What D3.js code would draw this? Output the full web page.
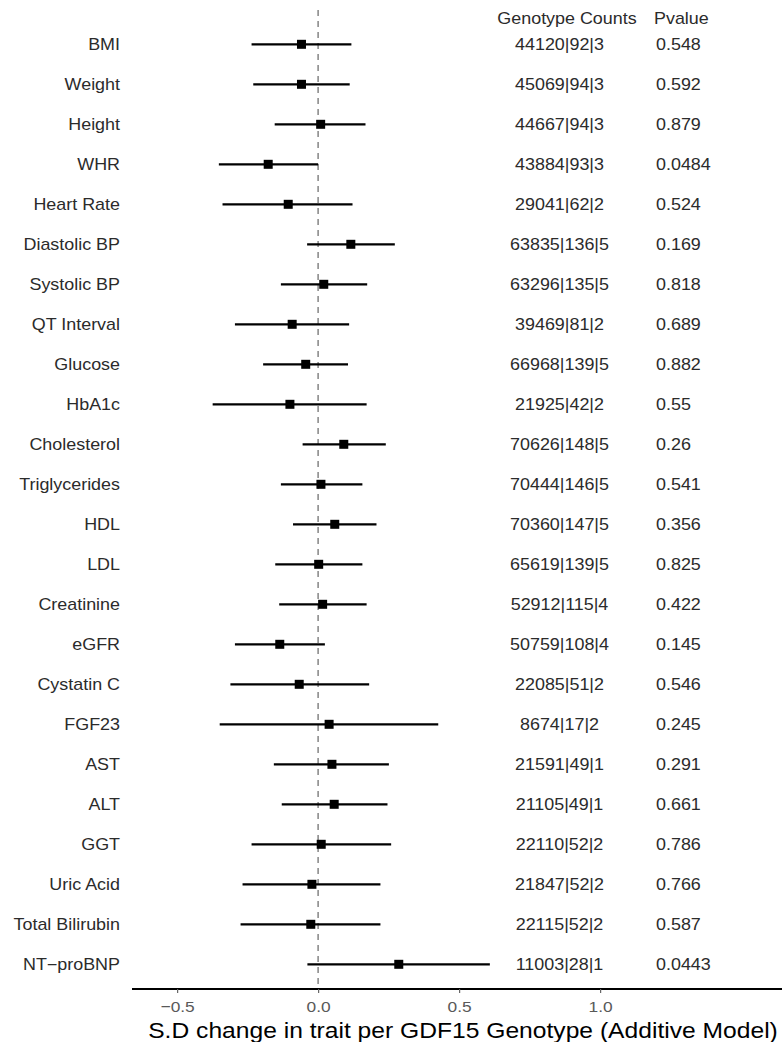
<!DOCTYPE html>
<html>
<head>
<meta charset="utf-8">
<script src="https://cdn.jsdelivr.net/npm/d3@7"></script>
<style>
  html, body { margin: 0; padding: 0; background: #fff; }
  svg { display: block; font-family: "Liberation Sans", Arial, sans-serif; }
</style>
</head>
<body>
<svg id="chart" width="782" height="1042"></svg>
<script>
// Traits tested against GDF15 genotype
const traits = ["BMI", "Weight", "Height", "WHR", "Heart Rate", "Diastolic BP", "Systolic BP",
  "QT Interval", "Glucose", "HbA1c", "Cholesterol", "Triglycerides", "HDL", "LDL", "Creatinine",
  "eGFR", "Cystatin C", "FGF23", "AST", "ALT", "GGT", "Uric Acid", "Total Bilirubin", "NT\u2212proBNP"];

// Effect estimate (S.D. per allele) and 95% CI bounds
const estimate = [-0.059, -0.059, 0.009, -0.177, -0.106, 0.116, 0.020, -0.092, -0.044, -0.100,
  0.091, 0.010, 0.059, 0.002, 0.016, -0.136, -0.067, 0.039, 0.049, 0.057, 0.011, -0.022, -0.026, 0.286];
const lower = [-0.236, -0.230, -0.154, -0.352, -0.339, -0.039, -0.132, -0.295, -0.195, -0.374,
  -0.055, -0.132, -0.089, -0.152, -0.138, -0.295, -0.311, -0.349, -0.157, -0.129, -0.236, -0.268, -0.275, -0.038];
const upper = [0.118, 0.112, 0.168, 0.000, 0.122, 0.272, 0.174, 0.110, 0.106, 0.172,
  0.240, 0.157, 0.207, 0.157, 0.172, 0.024, 0.181, 0.426, 0.251, 0.246, 0.259, 0.221, 0.221, 0.609];

const genotypeCounts = ["44120|92|3", "45069|94|3", "44667|94|3", "43884|93|3", "29041|62|2",
  "63835|136|5", "63296|135|5", "39469|81|2", "66968|139|5", "21925|42|2", "70626|148|5",
  "70444|146|5", "70360|147|5", "65619|139|5", "52912|115|4", "50759|108|4", "22085|51|2",
  "8674|17|2", "21591|49|1", "21105|49|1", "22110|52|2", "21847|52|2", "22115|52|2", "11003|28|1"];
const pvalues = ["0.548", "0.592", "0.879", "0.0484", "0.524", "0.169", "0.818", "0.689", "0.882",
  "0.55", "0.26", "0.541", "0.356", "0.825", "0.422", "0.145", "0.546", "0.245", "0.291", "0.661",
  "0.786", "0.766", "0.587", "0.0443"];

const xTicks = [-0.5, 0, 0.5, 1.0];
const xDomain = [-0.66, 1.645];
const axisTitle = "S.D change in trait per GDF15 Genotype (Additive Model)";

const rows = traits.map((t, i) => ({
  trait: t, est: estimate[i], lo: lower[i], hi: upper[i], n: genotypeCounts[i], p: pvalues[i]
}));

const svg = d3.select("#chart");
const axisY = 989;
const stretch = "scale(1.12,1)";   // slightly wide lettering

const x = d3.scaleLinear().domain(xDomain).range([132, 782]);
const y = d3.scalePoint().domain(traits).range([44.3, 964.3]);

// Places a text at (px, py) with the wide lettering
function wideText(sel, px, py) {
  sel.attr("transform", (d, i) => `translate(${typeof px === "function" ? px(d, i) : px},${typeof py === "function" ? py(d, i) : py}) ${stretch}`);
  return sel;
}

// Reference line at zero effect
svg.append("line")
  .attr("x1", x(0)).attr("x2", x(0))
  .attr("y1", 10).attr("y2", axisY)
  .attr("stroke", "#8c8c8c").attr("stroke-width", 1.6)
  .attr("stroke-dasharray", "6,5");

// Confidence intervals
svg.append("g").selectAll("line")
  .data(rows).join("line")
  .attr("x1", d => x(d.lo)).attr("x2", d => x(d.hi))
  .attr("y1", d => y(d.trait)).attr("y2", d => y(d.trait))
  .attr("stroke", "#000").attr("stroke-width", 2.2);

// Point estimates
const sq = 9;
svg.append("g").selectAll("rect")
  .data(rows).join("rect")
  .attr("x", d => x(d.est) - sq / 2).attr("y", d => y(d.trait) - sq / 2)
  .attr("width", sq).attr("height", sq)
  .attr("fill", "#000");

// Trait labels
svg.append("g").selectAll("text")
  .data(rows).join("text")
  .call(wideText, 120, d => y(d.trait) + 5.7)
  .attr("text-anchor", "end")
  .attr("font-size", 16).attr("fill", "#2b2b2b")
  .text(d => d.trait);

// Genotype counts column
svg.append("text").call(wideText, 567, 24)
  .attr("text-anchor", "middle").attr("font-size", 16).attr("fill", "#2b2b2b")
  .text("Genotype Counts");
svg.append("g").selectAll("text")
  .data(rows).join("text")
  .call(wideText, 559.5, d => y(d.trait) + 5.7)
  .attr("text-anchor", "middle")
  .attr("font-size", 16).attr("fill", "#2b2b2b")
  .text(d => d.n);

// P-value column
svg.append("text").call(wideText, 654, 24)
  .attr("font-size", 16).attr("fill", "#2b2b2b")
  .text("Pvalue");
svg.append("g").selectAll("text")
  .data(rows).join("text")
  .call(wideText, 656, d => y(d.trait) + 5.7)
  .attr("font-size", 16).attr("fill", "#2b2b2b")
  .text(d => d.p);

// X axis
const axis = svg.append("g")
  .attr("transform", `translate(0,${axisY})`)
  .call(d3.axisBottom(x).tickValues(xTicks).tickFormat(d3.format(".1f")).tickSize(4).tickPadding(8));
axis.select(".domain").attr("stroke", "#000").attr("stroke-width", 2.2)
  .attr("d", `M${x.range()[0]},0H${x.range()[1]}`);
axis.selectAll(".tick line").attr("stroke", "#666").attr("stroke-width", 1.2);
axis.selectAll(".tick text")
  .attr("transform", stretch)
  .attr("font-size", 15.5).attr("fill", "#595959")
  .attr("font-family", "'Liberation Sans', Arial, sans-serif")
  .text(d => d < 0 ? "\u2212" + Math.abs(d).toFixed(1) : d.toFixed(1));

svg.append("text")
  .call(wideText, 463, 1038)
  .attr("text-anchor", "middle")
  .attr("font-size", 22).attr("fill", "#000")
  .text(axisTitle);
</script>
</body>
</html>
